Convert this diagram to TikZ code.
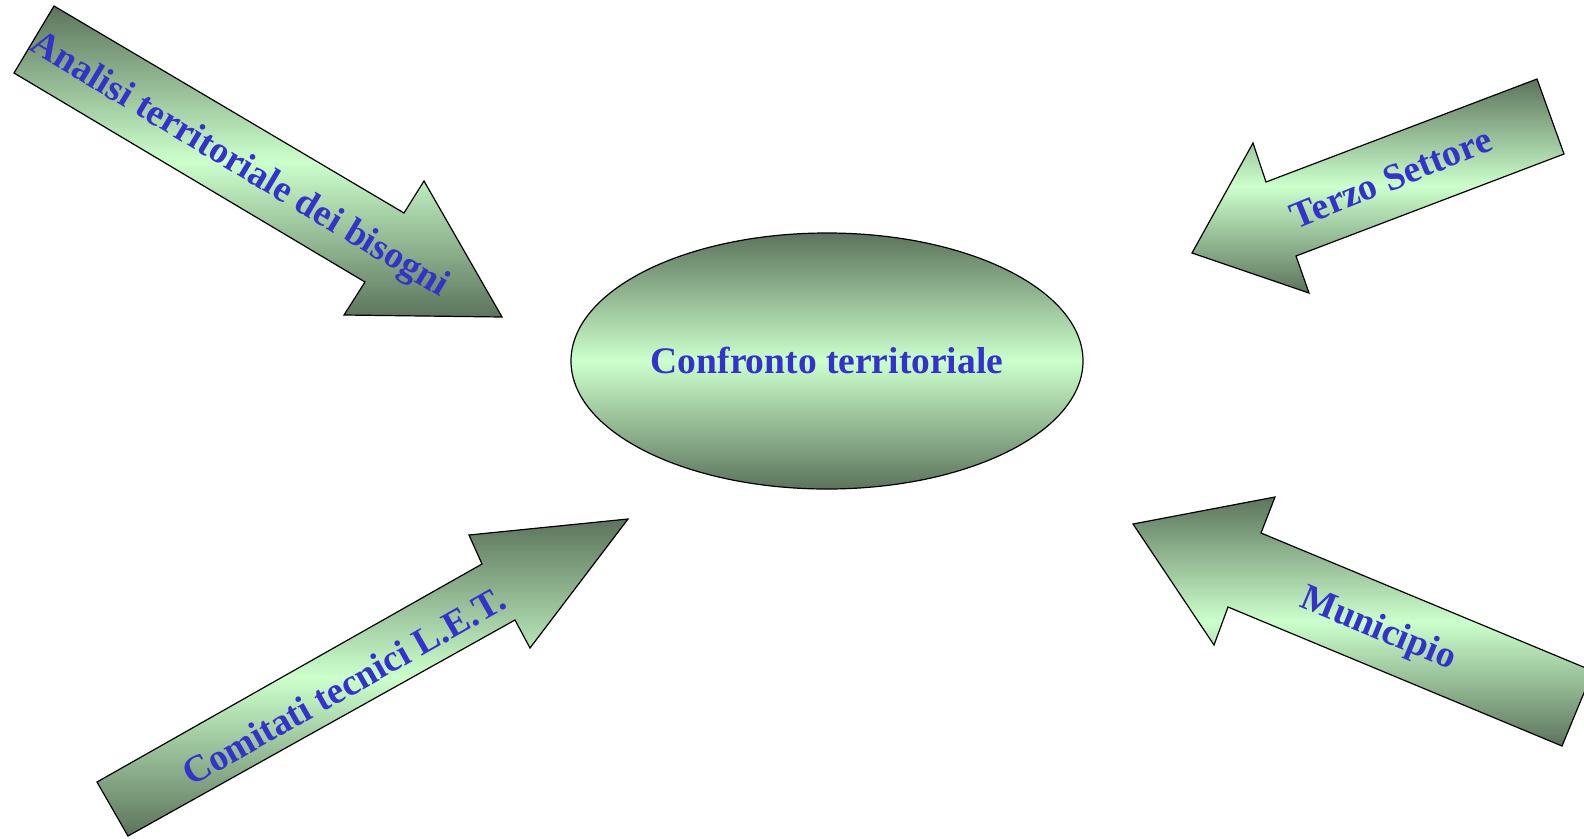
\documentclass[tikz,border=0pt]{standalone}
\usepackage{fontspec}
\setmainfont{Liberation Serif}
\definecolor{dkgreen}{RGB}{92,116,92}
\definecolor{ltgreen}{RGB}{204,255,204}
\definecolor{txtblue}{RGB}{51,51,204}
\tikzset{
  blockarrow/.style={draw=black, line width=1.2pt, line join=miter, top color=dkgreen, bottom color=dkgreen, middle color=ltgreen},
  lbl/.style={text=txtblue, font=\bfseries\fontsize{37.5}{44}\selectfont, inner sep=0pt}
}
\begin{document}
\begin{tikzpicture}[x=1pt,y=-1pt]
\useasboundingbox (0,0) rectangle (1584,838);
\clip (0,0) rectangle (1584,838);
% arrow 1: Analisi
\shadedraw[blockarrow] (54,6) -- (404,213) -- (424,181) -- (502,317) -- (344,315) -- (365,282) -- (14,73) -- cycle;
% arrow 2: Terzo Settore
\shadedraw[blockarrow] (1537,79) -- (1564,154) -- (1296,256) -- (1309,293) -- (1192,253) -- (1253,143) -- (1266,182) -- cycle;
% arrow 3: Comitati
\shadedraw[blockarrow] (97,782) -- (482,564) -- (469,535) -- (628,519) -- (530,648) -- (515,620) -- (128,836) -- cycle;
% arrow 4: Municipio
\shadedraw[blockarrow] (1133,524) -- (1275,497) -- (1261,533) -- (1593,671) -- (1562,746) -- (1228,607) -- (1214,645) -- cycle;
% ellipse
\shadedraw[blockarrow] (827,361) ellipse [x radius=256, y radius=128];
\node[lbl, anchor=base] (conf) at (827,373) {Confronto territoriale};
\node[lbl, rotate=-31] (anal) at (239,166) {Analisi territoriale dei bisogni};
\node[lbl, rotate=22] (terzo) at (1391,178) {Terzo Settore};
\node[lbl, rotate=29.5] (comit) at (344,686) {Comitati tecnici L.E.T.};
\node[lbl, rotate=-22.5] (munic) at (1378,630) {Municipio};
\end{tikzpicture}
\end{document}
